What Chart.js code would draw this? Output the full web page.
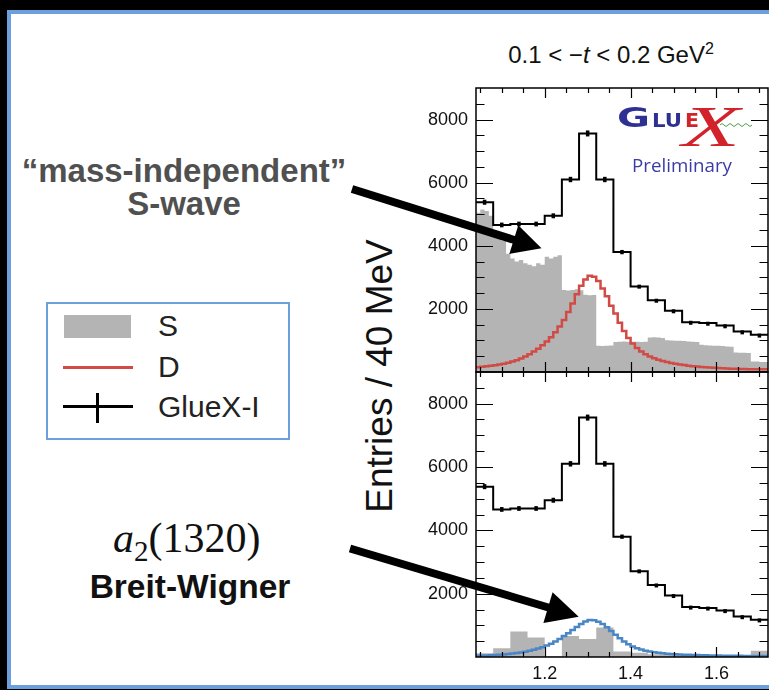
<!DOCTYPE html>
<html lang="en">
<head>
<meta charset="UTF-8">
<title>GlueX a2(1320) D-wave, 0.1 &lt; -t &lt; 0.2 GeV2</title>
<script src="https://cdn.jsdelivr.net/npm/chart.js"></script>
<style>
    html, body {
        margin: 0;
        padding: 0;
        width: 769px;
        height: 690px;
        overflow: hidden;
        background: #000;
        font-family: 'Liberation Sans', Arial, sans-serif;
    }
    .slide {
        position: absolute;
        left: 7px;
        top: 10px;
        width: 800px;
        height: 679px;
        box-sizing: border-box;
        background: #fff;
        border: 4px solid #6ca0dc;
        border-right: none;
    }
    .abs { position: absolute; white-space: nowrap; }
    .plot { position: absolute; z-index: 1; }
    .title { left: 411px; top: 41px; width: 400px; text-align: center; font-size: 24px; line-height: 28px; color: #111; }
    .title sup { font-size: 16px; vertical-align: 9px; line-height: 0; }
    .ytitle { left: 220px; top: 355px; width: 320px; height: 42px; line-height: 42px; text-align: center;
              font-size: 37px; color: #111; transform: rotate(-90deg); z-index: 1; }
    .note { left: -16px; top: 154px; width: 400px; text-align: center; font-size: 33px; line-height: 33px;
            font-weight: bold; color: #505050; }
    .legend { left: 46px; top: 302px; width: 244px; height: 138px; box-sizing: border-box; border: 2px solid #6ca0dc; }
    .legtxt { font-size: 30px; line-height: 34px; color: #222; left: 158px; }
    .a2 { left: 113px; top: 516px; font-family: 'Liberation Serif', 'Times New Roman', serif; font-size: 42px; line-height: 44px; color: #111; }
    .a2 sub { font-size: 29px; vertical-align: -9px; line-height: 0; }
    .bw { left: -10px; top: 567px; width: 400px; text-align: center; font-size: 33.5px; line-height: 40px; font-weight: bold; color: #111; }
    svg.over { position: absolute; left: 0; top: 0; z-index: 2; }
</style>
</head>
<body>
<div class="slide"></div>

<div class="abs title">0.1 &lt; &minus;<i>t</i> &lt; 0.2 GeV<sup>2</sup></div>
<div class="abs ytitle">Entries / 40 MeV</div>

<div class="abs note">&ldquo;mass-independent&rdquo;<br>S-wave</div>

<div class="abs legend"></div>
<div class="abs" style="left:64px; top:315px; width:67px; height:23px; background:#b4b4b4;"></div>
<div class="abs" style="left:63px; top:366px; width:70px; height:3px; background:#d24a45;"></div>
<div class="abs" style="left:63px; top:405px; width:70px; height:3px; background:#000;"></div>
<div class="abs" style="left:96px; top:393px; width:3px; height:30px; background:#000;"></div>
<div class="abs legtxt" style="top:309px;">S</div>
<div class="abs legtxt" style="top:350px;">D</div>
<div class="abs legtxt" style="top:390px;">GlueX-I</div>

<div class="abs a2"><i>a</i><sub>2</sub>(1320)</div>
<div class="abs bw">Breit-Wigner</div>

<canvas id="topPlot" class="plot" width="359" height="300" style="left:410px; top:80px;"></canvas>
<canvas id="botPlot" class="plot" width="359" height="326" style="left:410px; top:364px;"></canvas>

<svg class="over" width="769" height="690">
    <!-- GlueX logo -->
    <text x="617" y="127" font-family="DejaVu Sans" font-weight="bold" font-size="26" fill="#2e3192" textLength="33" lengthAdjust="spacingAndGlyphs">G</text>
    <text x="652" y="127" font-family="DejaVu Sans" font-weight="bold" font-size="19" fill="#2e3192" textLength="30" lengthAdjust="spacingAndGlyphs">LU</text>
    <text x="685" y="127" font-family="DejaVu Sans" font-weight="bold" font-size="19" fill="#d2232a" textLength="14" lengthAdjust="spacingAndGlyphs">E</text>
    <text x="682" y="146" font-family="Liberation Serif" font-style="italic" font-size="58" fill="#d2232a" textLength="58" lengthAdjust="spacingAndGlyphs">X</text>
    <path d="M720 125 q2 -3 4 0 t4 0 t4 0 t4 0 t4 0 t4 0 t4 0 t4 0" fill="none" stroke="#4aa04a" stroke-width="1"/>
    <text x="632" y="172" font-family="Open Sans" font-size="18" fill="#3b3ba5" textLength="100" lengthAdjust="spacingAndGlyphs">Preliminary</text>
    <!-- arrows -->
    <line x1="352" y1="189" x2="516" y2="240.5" stroke="#000" stroke-width="8"/>
    <polygon points="509.3,253.9 518.3,225.3 541.5,248.3" fill="#000"/>
    <line x1="350" y1="548.5" x2="550" y2="608" stroke="#000" stroke-width="8"/>
    <polygon points="543.4,622.9 552.6,592.3 578.7,616.7" fill="#000"/>
</svg>

<script>
// 40 MeV bins
const coarseEdges = [1.04, 1.08, 1.12, 1.16, 1.20, 1.24, 1.28, 1.32, 1.36, 1.40,
                     1.44, 1.48, 1.52, 1.56, 1.60, 1.64, 1.68, 1.72];
// 10 MeV bins for S (top) and the D / Breit-Wigner curves
const fineEdges = [];
for (let i = 0; i <= 68; i++) fineEdges.push(+(1.04 + 0.01 * i).toFixed(2));

const glueXCounts = [5380, 4660, 4690, 4690, 4950, 6100, 7560, 6100, 3800,
                     2710, 2270, 1940, 1580, 1550, 1470, 1280, 1180];
const glueXErrors = [80, 75, 75, 75, 78, 85, 95, 85, 68, 58, 52, 48, 44, 43, 42, 40, 38];

// top panel: mass-independent S-wave (10 MeV)
const sWaveTop = [5050, 5150, 5100, 4950, 4300, 4250, 4150, 3750, 3600, 3500,
                  3550, 3450, 3400, 3350, 3450, 3400, 3650, 3600, 3650, 3700,
                  2600, 2580, 2600, 2620, 2590, 2450, 2430, 2440, 830, 820,
                  830, 840, 950, 960, 970, 960, 955, 960, 950, 960,
                  1090, 1100, 1090, 1080, 1010, 1000, 990, 990, 980, 970,
                  960, 950, 860, 850, 840, 830, 830, 820, 810, 800,
                  620, 610, 610, 600, 330, 330, 320, 320];
// top panel: D-wave
const dWaveTop = [150, 165, 180, 195, 215, 240, 265, 295, 330, 375,
                  425, 490, 565, 650, 740, 850, 970, 1100, 1260, 1440,
                  1650, 1900, 2170, 2460, 2730, 2930, 3050, 3020, 2880, 2650,
                  2400, 2100, 1850, 1560, 1300, 1080, 900, 760, 650, 560,
                  490, 435, 390, 350, 315, 285, 260, 238, 218, 200,
                  185, 172, 160, 150, 140, 132, 124, 117, 111, 106,
                  101, 97, 94, 91, 89, 87, 85, 84];

// bottom panel: S-wave (40 MeV) and a2(1320) Breit-Wigner
const sWaveBot = [120, 275, 805, 615, 20, 667, 571, 930, 170, 137, 85, 64, 40, 30, 30, 25, 200];
const bwBot = [40, 45, 50, 56, 63, 72, 82, 94, 108, 125,
               145, 168, 196, 228, 265, 310, 362, 420, 490, 570,
               660, 750, 850, 950, 1045, 1120, 1165, 1160, 1115, 1040,
               940, 820, 700, 590, 490, 405, 335, 280, 235, 200,
               172, 150, 132, 117, 105, 95, 87, 80, 74, 69,
               64, 60, 56, 53, 50, 47, 45, 43, 41, 39,
               37, 36, 34, 33, 32, 31, 30, 29];

const xTickLabels = [1.2, 1.4, 1.6];
const yTickLabels = [2000, 4000, 6000, 8000];
const xRange = [1.04, 1.72];
const yRange = [0, 9000];

// histogram -> stepped points (left edges + closing point)
function steps(edges, vals) {
    const pts = vals.map((v, i) => ({ x: edges[i], y: v }));
    pts.push({ x: edges[vals.length], y: vals[vals.length - 1] });
    return pts;
}

// ROOT style frame with inward ticks on all four sides
const frameTicks = {
    id: 'frameTicks',
    afterDraw(chart) {
        const { ctx, chartArea: a, scales: { x, y } } = chart;
        ctx.save();
        ctx.strokeStyle = '#000';
        ctx.lineWidth = 1.2;
        ctx.beginPath();
        for (let k = 21; k <= 34; k++) {
            const px = Math.round(x.getPixelForValue(k * 0.05)) + 0.5;
            const len = k % 4 === 0 ? 10 : 5;
            ctx.moveTo(px, a.bottom); ctx.lineTo(px, a.bottom - len);
            ctx.moveTo(px, a.top); ctx.lineTo(px, a.top + len);
        }
        for (let k = 1; k < 18; k++) {
            const py = Math.round(y.getPixelForValue(k * 500)) + 0.5;
            const len = k % 4 === 0 ? 17 : 8.5;
            ctx.moveTo(a.left, py); ctx.lineTo(a.left + len, py);
            ctx.moveTo(a.right, py); ctx.lineTo(a.right - len, py);
        }
        ctx.stroke();
        ctx.lineWidth = 1.5;
        ctx.strokeRect(a.left, a.top, a.right - a.left, a.bottom - a.top);
        ctx.restore();
    }
};

const errBars = {
    id: 'errBars',
    afterDatasetsDraw(chart) {
        const { ctx, scales: { x, y } } = chart;
        ctx.save();
        ctx.fillStyle = '#000';
        glueXCounts.forEach((v, i) => {
            const cx = x.getPixelForValue((coarseEdges[i] + coarseEdges[i + 1]) / 2);
            const y1 = y.getPixelForValue(v + glueXErrors[i]);
            const y2 = y.getPixelForValue(v - glueXErrors[i]);
            ctx.fillRect(cx - 1.75, y1, 3.5, Math.max(y2 - y1, 4));
        });
        ctx.restore();
    }
};

const tickFont = { family: "'Liberation Sans', Arial, sans-serif", size: 18 };

function makeOptions(showX, pad) {
    return {
        responsive: false,
        animation: false,
        events: [],
        layout: { padding: pad },
        plugins: { legend: { display: false }, tooltip: { enabled: false } },
        elements: { point: { radius: 0 }, line: { tension: 0 } },
        scales: {
            x: {
                type: 'linear', min: xRange[0], max: xRange[1], display: showX,
                grid: { display: false, drawTicks: false }, border: { display: false },
                afterBuildTicks: s => { s.ticks = xTickLabels.map(v => ({ value: v })); },
                afterFit: s => {
                    s.height = showX ? 33 : 0;
                    s.paddingLeft = 0; s.paddingRight = 0;
                },
                ticks: { autoSkip: false, maxRotation: 0, padding: 6, color: '#111', font: tickFont,
                         callback: v => v.toFixed(1) }
            },
            y: {
                min: yRange[0], max: yRange[1],
                grid: { display: false, drawTicks: false }, border: { display: false },
                afterBuildTicks: s => { s.ticks = yTickLabels.map(v => ({ value: v })); },
                afterFit: s => {
                    s.width = 66;
                    s.paddingTop = 0; s.paddingBottom = 0;
                },
                ticks: { padding: 8, color: '#111', font: tickFont, callback: v => String(v) }
            }
        }
    };
}

function dataLine(color) {
    return {
        label: 'GlueX-I', data: steps(coarseEdges, glueXCounts), stepped: 'before',
        borderColor: color, borderWidth: 2, fill: false, order: 0
    };
}

new Chart(document.getElementById('topPlot'), {
    type: 'line',
    data: {
        datasets: [
            dataLine('#000'),
            { label: 'D', data: steps(fineEdges, dWaveTop), stepped: 'before',
              borderColor: '#d24a45', borderWidth: 2.5, fill: false, order: 1 },
            { label: 'S', data: steps(fineEdges, sWaveTop), stepped: 'before',
              borderColor: 'rgba(0,0,0,0)', borderWidth: 0, backgroundColor: '#b4b4b4', fill: 'origin', order: 2 }
        ]
    },
    options: makeOptions(false, { top: 8, bottom: 8, left: 0, right: 1 }),
    plugins: [errBars, frameTicks]
});

new Chart(document.getElementById('botPlot'), {
    type: 'line',
    data: {
        datasets: [
            dataLine('#000'),
            { label: 'BW', data: steps(fineEdges, bwBot), stepped: 'before',
              borderColor: '#4a86c6', borderWidth: 2.5, fill: false, order: 1 },
            { label: 'S', data: steps(coarseEdges, sWaveBot), stepped: 'before',
              borderColor: 'rgba(0,0,0,0)', borderWidth: 0, backgroundColor: '#b4b4b4', fill: 'origin', order: 2 }
        ]
    },
    options: makeOptions(true, { top: 8, bottom: 0, left: 0, right: 1 }),
    plugins: [errBars, frameTicks]
});
</script>
</body>
</html>
